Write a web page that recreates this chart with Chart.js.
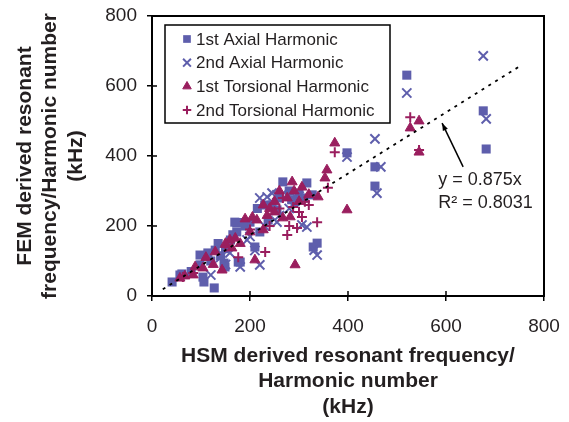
<!DOCTYPE html>
<html lang="en">
<head>
<meta charset="UTF-8" />
<title>FEM vs HSM resonant frequency</title>
<script src="https://cdn.jsdelivr.net/npm/chart.js"></script>
<style>
  html, body { margin: 0; padding: 0; background: #fff; }
  #wrap { width: 569px; height: 422px; }
</style>
</head>
<body>
<div id="wrap"><canvas id="scatterChart" width="569" height="422"></canvas></div>
<script>
// [HSM kHz, FEM kHz] per harmonic number
const axial1 = [
  [41, 40], [57, 60], [61, 63], [104, 54], [106, 40], [127, 23], [98, 89], [98, 117],
  [114, 123], [129, 131], [147, 94], [149, 83], [173, 209], [169, 211], [173, 183],
  [176, 97], [200, 211], [180, 97], [210, 140], [220, 183], [237, 217], [255, 246],
  [267, 326], [316, 323], [329, 140], [337, 151], [292, 269], [327, 289], [398, 409],
  [455, 369], [455, 314], [520, 631], [676, 529], [682, 420], [80, 70], [120, 100],
  [160, 160], [190, 200], [215, 250], [230, 260], [280, 300], [300, 290], [310, 280],
  [135, 150], [150, 135], [165, 175], [185, 210], [245, 260], [260, 280], [285, 275],
  [140, 115]
];
const axial2 = [
  [235, 283], [255, 289], [220, 280], [245, 294], [265, 290], [285, 295], [300, 285],
  [316, 197], [337, 117], [331, 131], [180, 83], [220, 89], [255, 211], [194, 160],
  [159, 123], [398, 397], [455, 449], [467, 369], [459, 294], [520, 580], [676, 686],
  [682, 506], [120, 60], [140, 110], [200, 170], [230, 200], [260, 230], [210, 130],
  [280, 250], [150, 90], [306, 203]
];
const torsional1 = [
  [57, 51], [67, 57], [84, 60], [88, 83], [104, 80], [129, 126], [143, 74], [159, 160],
  [163, 137], [200, 183], [214, 217], [227, 189], [210, 103], [286, 326], [306, 311],
  [276, 280], [282, 226], [339, 283], [357, 360], [353, 337], [398, 246], [292, 89],
  [227, 260], [267, 223], [373, 437], [527, 480], [545, 500], [545, 411], [180, 150],
  [190, 220], [240, 250], [250, 240], [300, 270], [260, 300], [235, 230], [110, 110],
  [150, 150], [170, 165], [205, 225], [250, 270], [290, 300], [320, 290], [125, 90]
];
const torsional2 = [
  [63, 54], [84, 66], [373, 411], [359, 309], [337, 211], [312, 269], [296, 194],
  [276, 174], [231, 126], [288, 254], [267, 280], [306, 226], [176, 111], [527, 511],
  [545, 417], [240, 200], [260, 250], [200, 190], [150, 140], [300, 240], [320, 260],
  [280, 200]
];
const seriesLabels = ['1st Axial Harmonic', '2nd Axial Harmonic', '1st Torsional Harmonic', '2nd Torsional Harmonic'];
const trendEnds = [[22, 19], [750, 656]];
const trendText = ['y = 0.875x', 'R\u00b2 = 0.8031'];
const axisMin = 0, axisMax = 800, axisStep = 200;

const BLUE = '#5E5EAC';
const PLUM = '#9A1E5E';
const FONT = '"Liberation Sans", Arial, sans-serif';

const toPoints = arr => arr.map(([x, y]) => ({ x, y }));

function series(label, pts, style, color, radius, border, order) {
  return {
    label, data: toPoints(pts), pointStyle: style,
    pointRadius: radius, pointHoverRadius: radius,
    backgroundColor: color, borderColor: color, borderWidth: border,
    showLine: false, order
  };
}

// full box + inner half of the crossing tick marks
const framePlugin = {
  id: 'frame',
  afterDatasetsDraw(chart) {
    const { ctx, chartArea: a, scales: { x, y } } = chart;
    ctx.save();
    ctx.strokeStyle = '#000';
    ctx.lineWidth = 2;
    ctx.strokeRect(a.left, a.top, a.right - a.left, a.bottom - a.top);
    ctx.lineWidth = 1.5;
    ctx.beginPath();
    x.ticks.forEach(t => {
      const px = x.getPixelForValue(t.value);
      ctx.moveTo(px, a.bottom); ctx.lineTo(px, a.bottom - 5);
    });
    y.ticks.forEach(t => {
      const py = y.getPixelForValue(t.value);
      ctx.moveTo(a.left, py); ctx.lineTo(a.left + 5, py);
    });
    ctx.stroke();
    ctx.restore();
  }
};

// trendline label with arrow
const notePlugin = {
  id: 'note',
  afterDatasetsDraw(chart) {
    const { ctx, scales: { x, y } } = chart;
    const tipX = x.getPixelForValue(592), tipY = y.getPixelForValue(494);
    const tailX = x.getPixelForValue(635), tailY = y.getPixelForValue(369);
    ctx.save();
    ctx.strokeStyle = '#000';
    ctx.fillStyle = '#000';
    ctx.lineWidth = 1.5;
    ctx.beginPath();
    ctx.moveTo(tailX, tailY); ctx.lineTo(tipX, tipY);
    ctx.stroke();
    const ang = Math.atan2(tipY - tailY, tipX - tailX);
    ctx.beginPath();
    ctx.moveTo(tipX, tipY);
    ctx.lineTo(tipX - 8 * Math.cos(ang - 0.35), tipY - 8 * Math.sin(ang - 0.35));
    ctx.lineTo(tipX - 8 * Math.cos(ang + 0.35), tipY - 8 * Math.sin(ang + 0.35));
    ctx.closePath();
    ctx.fill();
    ctx.fillStyle = '#231f20';
    ctx.font = '18px ' + FONT;
    ctx.textBaseline = 'middle';
    const tx = x.getPixelForValue(584);
    ctx.fillText(trendText[0], tx, y.getPixelForValue(331));
    ctx.fillText(trendText[1], tx, y.getPixelForValue(266));
    ctx.restore();
  }
};

// boxed legend sitting inside the plot
const boxLegend = {
  id: 'boxLegend',
  afterDraw(chart) {
    const ctx = chart.ctx;
    const left = 165, top = 25, w = 225, h = 98;
    ctx.save();
    ctx.fillStyle = '#fff';
    ctx.fillRect(left, top, w, h);
    ctx.strokeStyle = '#000';
    ctx.lineWidth = 1.5;
    ctx.strokeRect(left, top, w, h);
    ctx.font = '17px ' + FONT;
    ctx.textBaseline = 'middle';
    chart.data.datasets.slice(0, 4).forEach((ds, i) => {
      const cy = top + 14 + i * 23.7;
      ctx.fillStyle = ds.backgroundColor;
      ctx.strokeStyle = ds.borderColor;
      ctx.lineWidth = ds.borderWidth;
      Chart.helpers.drawPoint(ctx, {
        pointStyle: ds.pointStyle, radius: ds.pointRadius * 0.85,
        borderWidth: ds.borderWidth, rotation: 0
      }, 187, cy);
      ctx.fillStyle = '#231f20';
      ctx.fillText(ds.label, 196, cy + 1);
    });
    ctx.restore();
  }
};

const tickFont = { family: FONT, size: 19 };
const titleFont = { family: FONT, size: 21, weight: 'bold', lineHeight: 1.22 };

new Chart(document.getElementById('scatterChart'), {
  type: 'scatter',
  data: {
    datasets: [
      series(seriesLabels[0], axial1, 'rect', BLUE, 6.4, 0, 4),
      series(seriesLabels[1], axial2, 'crossRot', BLUE, 6.5, 2, 3),
      series(seriesLabels[2], torsional1, 'triangle', PLUM, 5.8, 1, 2),
      series(seriesLabels[3], torsional2, 'cross', PLUM, 5, 2, 1),
      {
        type: 'line', label: 'trend', data: toPoints(trendEnds),
        borderColor: '#000', borderWidth: 1.8, borderDash: [3, 5],
        pointRadius: 0, order: 0
      }
    ]
  },
  options: {
    responsive: false,
    animation: false,
    layout: { autoPadding: false, padding: { left: 0, right: 25, top: 16, bottom: 0 } },
    plugins: { legend: { display: false }, tooltip: { enabled: false } },
    scales: {
      x: {
        type: 'linear', min: axisMin, max: axisMax,
        ticks: { stepSize: axisStep, font: tickFont, color: '#231f20', padding: 14, maxRotation: 0 },
        grid: { drawOnChartArea: false, drawTicks: true, tickLength: 5, color: '#000', lineWidth: 1.5 },
        border: { display: true, color: '#000', width: 2 },
        title: {
          display: true, color: '#231f20', font: titleFont,
          text: ['HSM derived resonant frequency/', 'Harmonic number', '(kHz)'],
          padding: { top: 0, bottom: 2 }
        },
        afterFit(scale) {
          scale.height = 126;
          scale.paddingLeft = 0;
          scale.paddingRight = 0;
        }
      },
      y: {
        type: 'linear', min: axisMin, max: axisMax,
        ticks: { stepSize: axisStep, font: tickFont, color: '#231f20', padding: 10 },
        grid: { drawOnChartArea: false, drawTicks: true, tickLength: 5, color: '#000', lineWidth: 1.5 },
        border: { display: true, color: '#000', width: 2 },
        title: {
          display: true, color: '#231f20', font: titleFont,
          text: ['FEM derived resonant', 'frequency/Harmonic number', '(kHz)'],
          padding: { top: 12, bottom: 0 }
        },
        afterFit(scale) {
          scale.width = 152;
          scale.paddingTop = 0;
          scale.paddingBottom = 0;
        }
      }
    }
  },
  plugins: [framePlugin, notePlugin, boxLegend]
});
</script>
</body>
</html>
